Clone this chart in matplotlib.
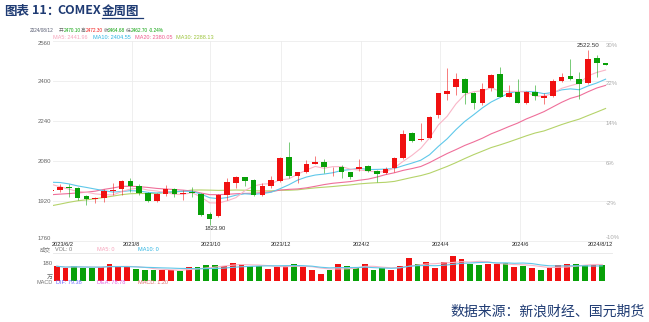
import numpy as np
import pandas as pd
import matplotlib
matplotlib.use("Agg")
import matplotlib.pyplot as plt
from matplotlib.transforms import blended_transform_factory
from matplotlib.lines import Line2D

plt.rcParams['font.family'] = ['Liberation Sans', 'Noto Sans CJK SC', 'DejaVu Sans']

# weekly closes before the first candle, only used to start the moving averages
prior_close = [1681, 1771, 1754, 1754, 1809, 1810, 1800, 1804, 1826, 1869,
               1921, 1928, 1930, 1876, 1874, 1850, 1817, 1855, 1867, 1973,
               1983, 1986, 2025, 2015, 1990, 1999, 2025, 2019, 1981, 1944]

# weekly candles 2023/6/2 .. 2024/8/12
opens = [1960, 1964, 1977, 1973, 1940, 1930, 1933, 1960, 1967, 2000,
         1981, 1951, 1920, 1947, 1968, 1947, 1957, 1948, 1867, 1861,
         1944, 1991, 2017, 2003, 1944, 1981, 2001, 2097, 2021, 2037,
         2068, 2075, 2051, 2055, 2035, 2047, 2060, 2040, 2031, 2051,
         2091, 2191, 2163, 2171, 2264, 2347, 2375, 2408, 2353, 2311,
         2371, 2427, 2337, 2355, 2311, 2355, 2333, 2340, 2401, 2421,
         2407, 2391, 2491, 2470.10]
highs = [1983, 1987, 1987, 1977, 1944, 1937, 1967, 1991, 2004, 2013,
         1987, 1955, 1951, 1984, 1971, 1964, 1975, 1953, 1876, 1948,
         2011, 2020, 2017, 2007, 1993, 2020, 2097, 2155, 2037, 2084,
         2100, 2088, 2057, 2064, 2037, 2087, 2064, 2044, 2055, 2097,
         2204, 2197, 2231, 2260, 2353, 2451, 2433, 2411, 2357, 2391,
         2428, 2457, 2384, 2408, 2360, 2384, 2351, 2407, 2431, 2490,
         2435, 2522.50, 2504, 2472.30]
lows = [1953, 1957, 1937, 1923, 1904, 1913, 1917, 1944, 1944, 1955,
        1944, 1915, 1915, 1941, 1937, 1924, 1937, 1860, 1823.90, 1857,
        1924, 1971, 1980, 1940, 1940, 1971, 1997, 2011, 1991, 2031,
        2067, 2031, 2022, 2011, 2007, 2041, 2035, 1997, 2027, 2037,
        2087, 2157, 2160, 2167, 2251, 2324, 2344, 2308, 2287, 2304,
        2361, 2335, 2335, 2311, 2307, 2324, 2307, 2337, 2397, 2405,
        2327, 2387, 2415, 2462.70]
closes = [1966, 1975, 1972, 1933, 1929, 1933, 1960, 1965, 2000, 1981,
          1951, 1921, 1947, 1968, 1947, 1951, 1953, 1864, 1848, 1944,
          1995, 2017, 2001, 1944, 1981, 2004, 2093, 2021, 2035, 2067,
          2075, 2057, 2053, 2035, 2017, 2057, 2041, 2027, 2047, 2091,
          2188, 2160, 2168, 2255, 2351, 2361, 2408, 2353, 2313, 2367,
          2424, 2337, 2351, 2313, 2355, 2341, 2339, 2401, 2417, 2408,
          2388, 2488, 2470.60, 2464.68]
# volume, 万手 (current week has none yet)
volume = [151, 133, 151, 137, 137, 144, 173, 151, 144, 119,
          108, 108, 115, 115, 101, 140, 140, 166, 162, 158,
          187, 173, 151, 151, 126, 144, 155, 180, 144, 108,
          72, 108, 180, 151, 137, 176, 108, 137, 115, 151,
          238, 180, 191, 130, 194, 259, 223, 173, 166, 173,
          173, 187, 144, 158, 137, 115, 130, 162, 173, 180,
          166, 166, 162, 0]

date_pos = [1.3, 9.15, 18.1, 26.1, 35.2, 44.2, 53.3, 62.4]
date_labels = ['2023/6/2', '2023/8', '2023/10', '2023/12', '2024/2', '2024/4', '2024/6', '2024/8/12']
price_ticks = [2560, 2400, 2240, 2080, 1920, 1760]
pct_labels = ['30%', '22%', '14%', '6%', '-2%', '-10%']

RED = '#f01010'
GREEN = '#08a008'
NAVY = '#1f3b73'

W, H = 649, 322
fig = plt.figure(figsize=(W / 100, H / 100), dpi=100)


def fx(x):
    return x / W


def fy(y):
    return 1 - y / H


x = np.arange(len(closes))
o = np.array(opens)
c = np.array(closes)
hi = np.array(highs)
lo = np.array(lows)
n = len(closes)

allc = pd.Series(prior_close + closes)
ma = {k: allc.rolling(k).mean().values[-n:] for k in (5, 10, 20, 30)}

xl = (0.2045, 63.73)

# ---- main candle panel
ax = fig.add_axes([fx(53), fy(241), fx(612) - fx(53), 200 / H])
ax.set_xlim(*xl)
ax.set_ylim(1760, 2560)
ax.axis('off')
for p in price_ticks:
    ax.axhline(p, color='#ececec', lw=0.6, zorder=0, clip_on=False)
for t in date_pos[1:-1]:
    ax.axvline(t, color='#ececec', lw=0.6, zorder=0)

col = np.where(c >= o, RED, GREEN)
ax.vlines(x, lo, hi, colors=col, lw=0.7, alpha=0.55, zorder=2)
ax.bar(x, np.maximum(np.abs(c - o), 1.5), 0.62, bottom=np.minimum(o, c), color=col, lw=0, zorder=3)

ax.plot(x, ma[30], color='#b5d36a', lw=0.8, zorder=1)
ax.plot(x, ma[20], color='#ef6f9a', lw=0.8, zorder=1)
ax.plot(x, ma[10], color='#5fc8ea', lw=0.8, zorder=1)
ax.plot(x, ma[5], color='#f9b6c8', lw=0.8, zorder=1)

imin = int(np.argmin(lo))
imax = int(np.argmax(hi))
ax.annotate('%.2f' % lo[imin], (imin, lo[imin]), xytext=(4, -1), textcoords='offset points',
            ha='center', va='top', fontsize=4.2, color='#333333')
ax.annotate('%.2f' % hi[imax], (imax, hi[imax]), xytext=(0, 1.5), textcoords='offset points',
            ha='center', va='bottom', fontsize=4.5, color='#333333')

ty = blended_transform_factory(ax.transAxes, ax.transData)
for p in price_ticks:
    va = 'top' if p == 2560 else ('bottom' if p == 1760 else 'center')
    ax.text(-0.003, p, str(p), transform=ty, ha='right', va=va, fontsize=4.3, color='#666666')
for p, lab in zip(price_ticks, pct_labels):
    if p == 2560:
        ax.text(0.9893, p - 8, lab, transform=ty, ha='left', va='top', fontsize=4.3, color='#aaaaaa')
    elif p == 1760:
        ax.text(0.9893, p + 4, lab, transform=ty, ha='left', va='bottom', fontsize=4.3, color='#aaaaaa')
    else:
        ax.text(0.9893, p - 8, lab, transform=ty, ha='left', va='center', fontsize=4.3, color='#aaaaaa')

tx = blended_transform_factory(ax.transData, ax.transAxes)
for t, lab in zip(date_pos, date_labels):
    ax.text(t, -0.017, lab, transform=tx, ha='center', va='center', fontsize=4.1, color='#222222')

# ---- volume panel
vax = fig.add_axes([fx(53), fy(280.5), fx(612) - fx(53), 27.2 / H])
vax.set_xlim(*xl)
vax.set_ylim(0, 288)
vax.axis('off')
vax.axhline(288, color='#e6e6e6', lw=0.6, clip_on=False)
vv = np.array(volume[:-1], dtype=float)
vx = x[:-1] + 0.63
vax.bar(vx, vv, 0.66, color=col[:-1], lw=0)
vs = pd.Series(vv)
vax.plot(vx, vs.rolling(5, min_periods=1).mean(), color='#f9b6c8', lw=0.8)
vax.plot(vx, vs.rolling(10, min_periods=1).mean(), color='#5fc8ea', lw=0.8)

# ---- header texts


def seg(xp, yp, s, color, size=4.0):
    fig.text(fx(xp), fy(yp), s, ha='left', va='center', fontsize=size, color=color)


s1 = 3.4
seg(29.3, 30, '2024/08/12', '#555a70', s1)
seg(59, 30, '开', '#666666', s1)
seg(63.3, 30, '%.2f' % opens[-1], GREEN, s1)
seg(81, 30, '高', '#666666', s1)
seg(85.7, 30, '%.2f' % highs[-1], RED, s1)
seg(103.3, 30, '收', '#666666', s1)
seg(108, 30, '%.2f' % closes[-1], GREEN, s1)
seg(126, 30, '低', '#666666', s1)
seg(130.7, 30, '%.2f' % lows[-1], GREEN, s1)
seg(149, 30, '%.2f%%' % ((closes[-1] / closes[-2] - 1) * 100), GREEN, s1)

seg(52.7, 37.5, 'MA5: 2441.96', '#f7a3bb')
seg(92.7, 37.5, 'MA10: 2404.55', '#2cb4e2')
seg(135, 37.5, 'MA20: 2380.05', '#ee5a8e')
seg(175.7, 37.5, 'MA30: 2288.13', '#9cc43c')

seg(40, 249.5, '成交', '#777777')
seg(55, 249.5, 'VOL: 0', '#777777')
seg(96.7, 249.5, 'MA5: 0', '#f7a3bb')
seg(137.7, 249.5, 'MA10: 0', '#2cb4e2')
fig.text(fx(53), fy(263.3), '180', ha='right', va='center', fontsize=4.3, color='#666666')
fig.text(fx(52.5), fy(277), '万', ha='right', va='center', fontsize=4.3, color='#666666')

seg(36.7, 282.7, 'MACD', '#777777')
seg(56, 282.7, 'DIF: 79.38', '#6b6bff')
seg(96.7, 282.7, 'DEA: 78.78', '#e05ce0')
seg(137.7, 282.7, 'MACD: 1.20', '#e06a6a')

# ---- title and source
tf = dict(ha='left', va='center', fontsize=9, color=NAVY, family='Noto Sans CJK SC', weight='bold')
fig.text(fx(4), fy(11), '图表', **tf)
fig.text(fx(32), fy(11), '11', **tf)
fig.text(fx(46), fy(11), '：', **tf)
fig.text(fx(57), fy(11), 'COMEX', **tf)
fig.text(fx(101.7), fy(11), '金周图', **tf)
fig.add_artist(Line2D([fx(101.7), fx(143.3)], [fy(18), fy(18)], color=NAVY, lw=0.9))

fig.text(fx(450), fy(311.7), '数据来源：新浪财经、国元期货', ha='left', va='center',
         fontsize=10, color=NAVY, family='Noto Sans CJK SC')

fig.savefig('out.png', dpi=100)
